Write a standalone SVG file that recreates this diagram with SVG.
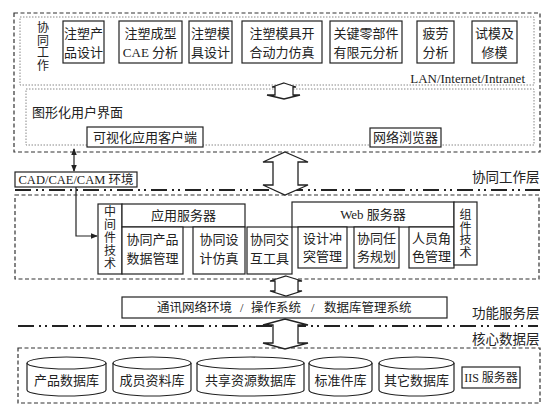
<svg xmlns="http://www.w3.org/2000/svg" width="554" height="412" viewBox="0 0 554 412">
<style>
.dash{fill:none;stroke:#333;stroke-width:1.2;stroke-dasharray:4 2.5}
.dot{fill:none;stroke:#888;stroke-width:1;stroke-dasharray:1.5 1.5}
.box{fill:#fff;stroke:#222;stroke-width:1.2}
.t{font-family:"Liberation Serif","Noto Sans CJK SC",serif;font-size:13px;fill:#222;text-anchor:middle;dominant-baseline:central}
.s{text-anchor:start}
.e{text-anchor:end}
.v{font-size:12px}
.dd{fill:none;stroke:#222;stroke-width:2;stroke-dasharray:16 5 2 4 2 5}
.ba{fill:#fff;stroke:#222;stroke-width:1.3;stroke-linejoin:miter}
.ln{fill:none;stroke:#222;stroke-width:1.2}
.cyl{fill:#fff;stroke:#222;stroke-width:1.2}
</style>
<defs>
<marker id="ah" viewBox="0 0 8 8" refX="7" refY="4" markerWidth="6" markerHeight="6" orient="auto-start-reverse">
<path d="M0,0.8 L8,4 L0,7.2 Z" fill="#222"/>
</marker>
</defs>
<rect width="554" height="412" fill="#fff"/>

<!-- layer frames -->
<g id="collab-frame">
<rect class="dash" x="14" y="13" width="526" height="139"/>
<rect class="dot" x="20" y="17" width="514" height="68"/>
<rect class="dot" x="26" y="89" width="508" height="56"/>
<text class="t" x="525" y="78" style="text-anchor:end">LAN/Internet/Intranet</text>
</g>

<g id="layer-lines">
<line class="dd" x1="15" y1="190" x2="540" y2="190"/>
<line class="dd" x1="18" y1="326" x2="538" y2="326"/>
<text class="t s" x="472" y="177" style="font-size:13.5px">协同工作层</text>
<text class="t s" x="472" y="313" style="font-size:13.5px">功能服务层</text>
<text class="t s" x="472" y="339" style="font-size:13.5px">核心数据层</text>
</g>

<g id="collab-label">
<text class="t v" x="43" y="28">协</text>
<text class="t v" x="43" y="40.5">同</text>
<text class="t v" x="43" y="53">工</text>
<text class="t v" x="43" y="65.5">作</text>
</g>

<g id="n-cpsj"><rect class="box" x="63" y="21" width="41" height="42"/><text class="t" x="83.5" y="33">注塑产</text><text class="t" x="83.5" y="52">品设计</text></g>
<g id="n-cae"><rect class="box" x="119" y="21" width="63" height="42"/><text class="t" x="150.5" y="33">注塑成型</text><text class="t" x="150.5" y="52">CAE 分析</text></g>
<g id="n-mjsj"><rect class="box" x="189" y="21" width="43" height="42"/><text class="t" x="210.5" y="33">注塑模</text><text class="t" x="210.5" y="52">具设计</text></g>
<g id="n-kh"><rect class="box" x="242" y="21" width="80" height="42"/><text class="t" x="282" y="33">注塑模具开</text><text class="t" x="282" y="52">合动力仿真</text></g>
<g id="n-yxy"><rect class="box" x="330" y="21" width="72" height="42"/><text class="t" x="366" y="33">关键零部件</text><text class="t" x="366" y="52">有限元分析</text></g>
<g id="n-pl"><rect class="box" x="417" y="21" width="37" height="42"/><text class="t" x="435.5" y="33">疲劳</text><text class="t" x="435.5" y="52">分析</text></g>
<g id="n-sm"><rect class="box" x="472" y="21" width="45" height="42"/><text class="t" x="494.5" y="33">试模及</text><text class="t" x="494.5" y="52">修模</text></g>

<g id="gui">
<text class="t s" x="32" y="112">图形化用户界面</text>
</g>
<g id="n-client"><rect class="box" x="87" y="127" width="116" height="20"/><text class="t" x="145" y="137">可视化应用客户端</text></g>
<g id="n-browser"><rect class="box" x="370" y="128" width="71" height="19"/><text class="t" x="405.5" y="137.5">网络浏览器</text></g>

<g id="n-cad"><rect class="box" x="15" y="172" width="122" height="15"/><text class="t" x="76" y="180" style="font-size:12.5px">CAD/CAE/CAM 环境</text></g>

<g id="service-frame"><rect class="dash" x="15" y="195" width="524" height="84"/></g>

<g id="n-mid"><rect class="box" x="98" y="204" width="24" height="70"/>
<text class="t v" x="110" y="212">中</text><text class="t v" x="110" y="225">间</text><text class="t v" x="110" y="238">件</text><text class="t v" x="110" y="251">技</text><text class="t v" x="110" y="264">术</text></g>
<g id="n-app"><rect class="box" x="122" y="204" width="123" height="23"/><text class="t" x="183.5" y="215.5">应用服务器</text></g>
<g id="n-pdm"><rect class="box" x="122" y="227" width="61" height="47"/><text class="t" x="152.5" y="239">协同产品</text><text class="t" x="152.5" y="258">数据管理</text></g>
<g id="n-fz"><rect class="box" x="193" y="227" width="52" height="47"/><text class="t" x="219" y="239">协同设</text><text class="t" x="219" y="258">计仿真</text></g>
<g id="n-jh"><rect class="box" x="247" y="227" width="45" height="47"/><text class="t" x="269.5" y="239">协同交</text><text class="t" x="269.5" y="258">互工具</text></g>
<g id="n-web"><rect class="box" x="292" y="202" width="162" height="25"/><text class="t" x="373" y="214.5">Web 服务器</text></g>
<g id="n-ct"><rect class="box" x="298" y="227" width="49" height="41"/><text class="t" x="322.5" y="238">设计冲</text><text class="t" x="322.5" y="256">突管理</text></g>
<g id="n-rw"><rect class="box" x="354" y="227" width="45" height="41"/><text class="t" x="376.5" y="238">协同任</text><text class="t" x="376.5" y="256">务规划</text></g>
<g id="n-js"><rect class="box" x="409" y="227" width="45" height="41"/><text class="t" x="431.5" y="238">人员角</text><text class="t" x="431.5" y="256">色管理</text></g>
<g id="n-comp"><rect class="box" x="454" y="202" width="23" height="63"/>
<text class="t v" x="465.5" y="215">组</text><text class="t v" x="465.5" y="227.5">件</text><text class="t v" x="465.5" y="240">技</text><text class="t v" x="465.5" y="252.5">术</text></g>

<g id="n-os"><rect class="box" x="122" y="297" width="325" height="21"/>
<text class="t s" y="308" style="font-size:12.5px"><tspan x="157">通讯网络环境</tspan><tspan x="240">/</tspan><tspan x="251">操作系统</tspan><tspan x="311">/</tspan><tspan x="324">数据库管理系统</tspan></text></g>

<g id="data-frame"><rect class="dash" x="18" y="348" width="522" height="55"/></g>

<g id="db1"><path class="cyl" d="M27,363 V390 A39.5,6 0 0 0 106,390 V363"/><ellipse class="cyl" cx="66.5" cy="363" rx="39.5" ry="6"/><text class="t" x="66.5" y="380">产品数据库</text></g>
<g id="db2"><path class="cyl" d="M113,363 V390 A39,6 0 0 0 191,390 V363"/><ellipse class="cyl" cx="152" cy="363" rx="39" ry="6"/><text class="t" x="152" y="380">成员资料库</text></g>
<g id="db3"><path class="cyl" d="M197,363 V390 A53.5,6 0 0 0 304,390 V363"/><ellipse class="cyl" cx="250.5" cy="363" rx="53.5" ry="6"/><text class="t" x="250.5" y="380">共享资源数据库</text></g>
<g id="db4"><path class="cyl" d="M309,363 V390 A31.5,6 0 0 0 372,390 V363"/><ellipse class="cyl" cx="340.5" cy="363" rx="31.5" ry="6"/><text class="t" x="340.5" y="380">标准件库</text></g>
<g id="db5"><path class="cyl" d="M379,363 V390 A37.5,6 0 0 0 454,390 V363"/><ellipse class="cyl" cx="416.5" cy="363" rx="37.5" ry="6"/><text class="t" x="416.5" y="380">其它数据库</text></g>
<g id="n-iis"><rect class="box" x="462" y="367" width="58" height="21"/><text class="t" x="491" y="377.5" style="font-size:12px">IIS 服务器</text></g>

<g id="connectors">
<polygon class="ba" points="284,83 296,87 293,87 293,95 300,95 284,99 267,95 275,95 275,87 272,87"/>
<polygon class="ba" points="285,152 308,162 298,162 298,185 308,185 285,195 263,185 273,185 273,162 263,162"/>
<polygon class="ba" points="286,276 302,281 298,281 298,291 302,291 286,296 270,291 275,291 275,281 270,281"/>
<polygon class="ba" points="285,319 308,325 298,325 298,343 308,343 285,349 263,343 273,343 273,325 263,325"/>
<line class="ln" x1="74" y1="149" x2="74" y2="171" marker-start="url(#ah)" marker-end="url(#ah)"/>
<path class="ln" d="M76,187 V236 H97" marker-end="url(#ah)"/>
</g>
</svg>
